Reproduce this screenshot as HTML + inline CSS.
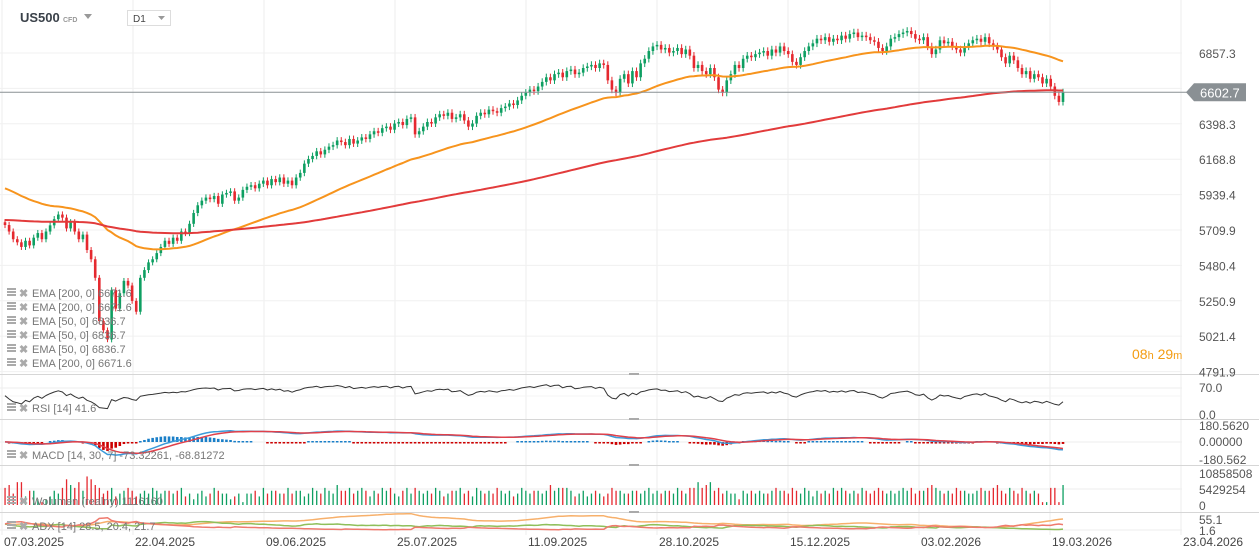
<!DOCTYPE html>
<html><head><meta charset="utf-8"><style>
html,body{margin:0;padding:0;background:#fff;width:1259px;height:560px;overflow:hidden}
svg{display:block;font-family:"Liberation Sans",sans-serif}
</style></head><body>
<svg id="c" width="1259" height="560" viewBox="0 0 1259 560">
<g id="grid"></g>
<g id="main"></g>
<g id="ind"></g>
<g id="axes"></g>
<g>
<text x="20" y="22" font-size="13" font-weight="bold" fill="#3a4149">US500</text>
<text x="63" y="22" font-size="7" font-weight="bold" fill="#999">CFD</text>
<path d="M84 14 L92 14 L88 19 Z" fill="#999"/>
<rect x="127.5" y="10.5" width="43" height="15" fill="#fff" stroke="#ddd"/>
<text x="133" y="22" font-size="10" fill="#444">D1</text>
<path d="M158 16 L165 16 L161.5 20 Z" fill="#999"/>
<text x="1132" y="359" font-size="14" fill="#f39c12">08<tspan font-size="11">h</tspan> 29<tspan font-size="11">m</tspan></text>
</g>
</svg>
<script>
const closes=[5742,5700,5650,5630,5600,5640,5610,5660,5690,5650,
5700,5740,5780,5810,5790,5720,5760,5700,5650,5680,
5580,5520,5400,5120,5060,5000,5320,5200,5300,5380,
5350,5250,5180,5400,5450,5500,5520,5560,5600,5640,
5620,5660,5640,5700,5690,5750,5820,5870,5900,5920,
5910,5930,5880,5940,5950,5960,5900,5920,5970,5990,
6000,5980,6010,6030,6000,6040,6020,6050,6010,6030,
6000,6050,6080,6140,6170,6190,6220,6200,6230,6250,
6260,6290,6280,6260,6300,6270,6290,6310,6300,6330,
6350,6340,6370,6380,6360,6400,6410,6390,6430,6440,
6330,6350,6380,6410,6400,6440,6460,6450,6470,6430,
6440,6460,6420,6380,6400,6450,6470,6460,6490,6480,
6470,6500,6510,6530,6520,6550,6580,6600,6620,6610,
6640,6670,6700,6680,6720,6730,6700,6740,6750,6720,
6730,6760,6770,6780,6760,6790,6780,6680,6620,6600,
6690,6720,6660,6740,6700,6790,6820,6870,6900,6910,
6880,6890,6860,6870,6890,6850,6880,6840,6760,6780,
6740,6720,6760,6700,6620,6600,6680,6720,6780,6760,
6820,6840,6830,6850,6860,6870,6840,6880,6860,6900,
6870,6850,6800,6780,6830,6870,6900,6920,6950,6940,
6960,6930,6950,6940,6970,6950,6980,6990,6960,6970,
6960,6940,6930,6890,6870,6900,6950,6960,6980,6990,
7000,6980,6950,6940,6960,6900,6850,6880,6940,6920,
6930,6900,6880,6860,6900,6920,6940,6950,6930,6960,
6920,6900,6880,6830,6790,6840,6810,6760,6720,6740,
6690,6720,6700,6660,6690,6640,6580,6540,6602.7];
const volumes=[6,7,4,8,8,3,5,5,2,1,
2,3,5,4,6,9,7,6,8,5,
10,9,7,6,4,5,6,3,4,5,
6,5,3,4,5,4,6,5,4,5,
5,4,5,6,3,4,2,4,5,3,
4,6,5,4,4,2,3,4,1,4,
4,5,3,6,4,5,5,4,4,6,
4,5,5,3,4,6,5,4,6,5,
4,7,5,5,6,4,5,6,5,3,
5,4,6,5,6,4,3,5,6,4,
6,5,4,5,4,6,5,3,4,5,
5,6,4,5,3,6,5,4,5,4,
6,5,4,5,3,4,6,5,4,5,
5,4,5,7,5,6,6,6,5,3,
4,5,3,4,5,4,3,4,6,5,
5,4,4,5,5,4,5,6,4,5,
4,5,5,4,6,5,4,6,6,8,
6,7,8,5,6,4,5,4,4,2,
5,4,5,4,5,4,4,5,6,5,
5,4,6,5,4,6,5,3,5,4,
5,4,6,5,6,5,4,5,4,6,
5,4,5,6,5,4,5,4,5,6,
5,6,4,5,5,6,7,6,5,4,
5,4,6,5,5,4,4,5,6,5,
5,6,7,5,4,6,5,4,6,5,
4,5,4,1,1,6,6,1,7];
const priceTicks=["6857.3","6627.8","6398.3","6168.8","5939.4","5709.9","5480.4","5250.9","5021.4","4791.9"];
const dateLabels=["07.03.2025","22.04.2025","09.06.2025","25.07.2025","11.09.2025","28.10.2025","15.12.2025","03.02.2026","19.03.2026","23.04.2026"];
const rsiTicks=["70.0","0.0"];
const macdTicks=["180.5620","0.00000","-180.562"];
const volTicks=["10858508","5429254","0"];
const adxTicks=["55.1","1.6"];
const ema200Seed=5775, ema50Seed=5990, firstOpen=5760;

const NS="http://www.w3.org/2000/svg";
function mk(tag,attrs,parent){const e=document.createElementNS(NS,tag);for(const k in attrs)e.setAttribute(k,attrs[k]);parent.appendChild(e);return e;}
const G=document.getElementById('grid'),M=document.getElementById('main'),I=document.getElementById('ind'),A=document.getElementById('axes');
const N=closes.length;
const xOf=i=>5+i*(1058/(N-1));
const yP=p=>53+(6857.3-p)/6.483;
const opens=closes.map((c,i)=>i?closes[i-1]:firstOpen);
const highs=closes.map((c,i)=>Math.max(c,opens[i])+c*0.0035);
const lows=closes.map((c,i)=>Math.min(c,opens[i])-c*0.0035);
const GREEN="#0e9f62",RED="#e5292f";

for(let k=0;k<10;k++){const x=2+131*k;const l=mk('line',{x1:x,y1:0,x2:x,y2:535,stroke:'#eeeeee'},G);

}
priceTicks.forEach(t=>{const y=yP(parseFloat(t));const l=mk('line',{x1:0,y1:y,x2:1182,y2:y,stroke:'#f0f0f0'},G);


const tx=mk('text',{x:1199,y:y+5,'font-size':12,fill:'#555'},A);tx.textContent=t;

});
[374,419,465,512].forEach(y=>{const l=mk('line',{x1:0,y1:y+.5,x2:1259,y2:y+.5,stroke:'#d6d6d6'},G);


const h=mk('rect',{x:629,y:y-1,width:10,height:2,fill:'#aaa'},G);

});
[[388,'#eee'],[396,'#f4f4f4'],[442,'#eee'],[489,'#eee'],[530,'#eee']].forEach(([y,c])=>{const l=mk('line',{x1:0,y1:y,x2:1182,y2:y,stroke:c},G);

});

const cw=2.6;
closes.forEach((c,i)=>{const x=xOf(i),o=opens[i],col=c>=o?GREEN:RED;
const g=mk('g',{},M);


mk('line',{x1:x,y1:yP(highs[i]),x2:x,y2:yP(lows[i]),stroke:col,'stroke-width':1},g);
const t=Math.min(yP(c),yP(o)),h=Math.max(1,Math.abs(yP(c)-yP(o)));
mk('rect',{x:x-cw/2,y:t,width:cw,height:h,fill:col},g);});

function ema(arr,n,seed){const a=2/(n+1);let e=seed;return arr.map(v=>(e=e+a*(v-e)));}
const e200=ema(closes,200,ema200Seed),e50=ema(closes,50,ema50Seed);
function line(vals,yf,col,w,name,parent){const d=vals.map((v,i)=>(i?'L':'M')+xOf(i).toFixed(1)+' '+yf(v).toFixed(1)).join(' ');
const p=mk('path',{d:d,fill:'none',stroke:col,'stroke-width':w,'stroke-linejoin':'round'},parent);

return p;}
line(e50,yP,'#f7941d',2,'ema-50-line',M);
line(e200,yP,'#e23b3b',2,'ema-200-line',M);

const cp=closes[N-1],cy=yP(cp);
const pl=mk('line',{x1:0,y1:cy,x2:1188,y2:cy,stroke:'#8a9094','stroke-width':1},M);


const pb=mk('path',{d:`M1186 ${cy} L1194 ${cy-9} L1246 ${cy-9} L1246 ${cy+9} L1194 ${cy+9} Z`,fill:'#8a9094'},A);


const pt=mk('text',{x:1200,y:cy+5,'font-size':13,fill:'#fff'},A);pt.textContent=cp.toFixed(1);



const rsi=[];{let ag=0,al=0;for(let i=0;i<N;i++){const ch=i?closes[i]-closes[i-1]:0;const g=Math.max(ch,0),l=Math.max(-ch,0);
ag=i?(ag*13+g)/14:8;al=i?(al*13+l)/14:8;rsi.push(100-100/(1+ag/(al||1e-6)));}}
const yR=v=>415-v*(27/70);
line(rsi,yR,'#333',1,'rsi-line',I);

const f=ema(closes,14,closes[0]-10),s=ema(closes,30,closes[0]-10);
const macd=f.map((v,i)=>v-s[i]);const sig=ema(macd,7,macd[0]);
const yM=v=>442-v*0.0969;
macd.forEach((m,i)=>{const hv=(m-sig[i])*1.5;if(Math.abs(hv)<1)return;const y1=yM(hv);
const r=mk('rect',{x:xOf(i)-1.3,y:hv>0?Math.min(y1,441):442,width:2.6,height:Math.max(1.5,Math.abs(y1-442)),fill:hv>0?'#1a7fc8':'#c00'},I);

});
line(macd,yM,'#3b9ad9',1.5,'macd-line',I);
line(sig,yM,'#e0404a',1.5,'macd-signal-line',I);

const yV=v=>505-v*(31/10.858508);
volumes.forEach((v,i)=>{const col=closes[i]>=opens[i]?GREEN:RED;
const r=mk('rect',{x:xOf(i)-0.6,y:yV(v),width:1.3,height:505-yV(v),fill:col},I);

});

const pdi=[],mdi=[],adx=[];{let tr=40,pd=10,md=10,ax=25;for(let i=0;i<N;i++){
if(i){const up=highs[i]-highs[i-1],dn=lows[i-1]-lows[i];const t=Math.max(highs[i]-lows[i],Math.abs(highs[i]-closes[i-1]),Math.abs(lows[i]-closes[i-1]));
tr=(tr*13+t)/14;pd=(pd*13+(up>dn&&up>0?up:0))/14;md=(md*13+(dn>up&&dn>0?dn:0))/14;}
const P=100*pd/tr,Mi=100*md/tr;const dx=100*Math.abs(P-Mi)/((P+Mi)||1);ax=(ax*13+dx)/14;pdi.push(P);mdi.push(Mi);adx.push(ax);}}
const yA=v=>530-(v-1.6)*(14/53.5);
line(adx,yA,'#f7b06b',1.5,'adx-line',I);
line(pdi,yA,'#8fbf5a',1.5,'plus-di-line',I);
line(mdi,yA,'#ef7a6e',1.5,'minus-di-line',I);

[[rsiTicks,[392,419]],[macdTicks,[430,446,464]],[volTicks,[478,494,510]],[adxTicks,[524,535]]].forEach(([ts,ys])=>{
ts.forEach((t,j)=>{const tx=mk('text',{x:1199,y:ys[j],'font-size':12,fill:'#555'},A);tx.textContent=t;

});});

dateLabels.forEach((d,k)=>{const tx=mk('text',{x:4+131*k,y:546,'font-size':12,fill:'#444'},A);tx.textContent=d;

});

const legends=[[297,"EMA [200, 0] 6671.6"],[311,"EMA [200, 0] 6671.6"],[325,"EMA [50, 0] 6836.7"],[339,"EMA [50, 0] 6836.7"],[353,"EMA [50, 0] 6836.7"],[367,"EMA [200, 0] 6671.6"],
[412,"RSI [14] 41.6"],[459,"MACD [14, 30, 7] -73.32261, -68.81272"],[505,"Wolumen (realny) 1116160"],[530,"ADX [14] 28.5, 20.4, 21.7"]];
legends.forEach(([y,t])=>{const g=mk('g',{},A);


mk('rect',{x:7,y:y-9,width:9,height:2,fill:'#aaa'},g);mk('rect',{x:7,y:y-6,width:9,height:2,fill:'#aaa'},g);mk('rect',{x:7,y:y-3,width:9,height:2,fill:'#aaa'},g);
const x=mk('text',{x:19,y:y,'font-size':11,'font-weight':'bold',fill:'#aaa'},g);x.textContent='✖';
const tx=mk('text',{x:32,y:y,'font-size':11,fill:'#777'},g);tx.textContent=t;});
</script>
</body></html>
